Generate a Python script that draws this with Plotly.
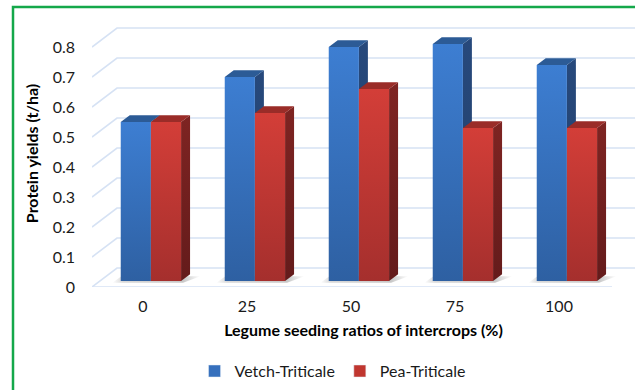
import plotly.graph_objects as go

# ---- data ----
ratios = ["0", "25", "50", "75", "100"]
vetch_triticale = [0.53, 0.68, 0.78, 0.79, 0.72]
pea_triticale = [0.53, 0.56, 0.64, 0.51, 0.51]
y_ticks = [0, 0.1, 0.2, 0.3, 0.4, 0.5, 0.6, 0.7, 0.8]

# ---- pseudo-3D geometry (data units) ----
W, H = 635, 390
ML, MR, MT, MB = 92, 0, 20, 103
PX_PER_CAT = 104.0          # horizontal pixels per category
PX_PER_UNIT = 300.0         # vertical pixels per t/ha
X0_PX = 143.0               # pixel x of first category on the front plane
xr = [(ML - X0_PX) / PX_PER_CAT, (W - MR - X0_PX) / PX_PER_CAT]
yr = [0, (H - MB - MT) / PX_PER_UNIT]

DEPTH_X = 25 / PX_PER_CAT   # full floor depth offset
DEPTH_Y = 19 / PX_PER_UNIT
F0 = 0.316                  # depth at which bar fronts sit
BD = 0.36                   # bar depth as a fraction of floor depth
BAR_W = 0.29
FRONT_LEFT = xr[0]
FRONT_RIGHT = FRONT_LEFT + len(ratios) * 1.0

series = [
    dict(name="Vetch-Triticale", vals=vetch_triticale, off=-BAR_W,
         front=("#2E60A2", "#3D7ED2"), top="#2C5B96", side=("#213F6A", "#27497C"),
         legend="#3670BD"),
    dict(name="Pea-Triticale", vals=pea_triticale, off=0.0,
         front=("#A52F2D", "#D33E38"), top="#9A2C28", side=("#641B1B", "#7E2422"),
         legend="#C0362F"),
]

fig = go.Figure()

# grid: diagonal on the left side wall + horizontal line on the back wall
gx, gy = [], []
for t in y_ticks:
    gx += [FRONT_LEFT, FRONT_LEFT + DEPTH_X, xr[1] + 0.2, None]
    gy += [t, t + DEPTH_Y, t + DEPTH_Y, None]
gx += [FRONT_LEFT, FRONT_RIGHT, None]
gy += [0, 0, None]
fig.add_trace(go.Scatter(x=gx, y=gy, mode="lines", line=dict(color="#D6E2F4", width=1.6),
                         hoverinfo="skip", showlegend=False))

bdx, bdy = BD * DEPTH_X, BD * DEPTH_Y
fdx, fdy = F0 * DEPTH_X, F0 * DEPTH_Y

# soft floor shadows under each bar pair
shadow_scale = [[0, "rgba(40,40,40,0)"], [0.12, "rgba(40,40,40,0.18)"],
                [0.8, "rgba(40,40,40,0.26)"], [1, "rgba(40,40,40,0)"]]
for i in range(len(ratios)):
    xa = i - BAR_W + fdx
    xb = i + BAR_W + fdx
    y0 = fdy
    sx = [xa - 0.08, xb + 0.02, xb + bdx + 0.1, xa - 0.08 + bdx, xa - 0.08]
    sy = [y0 - 0.006, y0 - 0.006, y0 + bdy * 0.7, y0 + bdy * 0.7, y0 - 0.006]
    fig.add_trace(go.Scatter(x=sx, y=sy, mode="lines", line=dict(width=0), fill="toself",
                             fillgradient=dict(type="horizontal", colorscale=shadow_scale),
                             hoverinfo="skip", showlegend=False))

for i in range(len(ratios)):
    for s in series:
        v = s["vals"][i]
        x0 = i + s["off"] + fdx
        x1 = x0 + BAR_W
        y0 = fdy
        y1 = v + fdy
        # side face
        fig.add_trace(go.Scatter(
            x=[x1, x1 + bdx, x1 + bdx, x1, x1], y=[y0, y0 + bdy, y1 + bdy, y1, y0],
            mode="lines", line=dict(width=0), fill="toself",
            fillgradient=dict(type="vertical", colorscale=[[0, s["side"][0]], [1, s["side"][1]]]),
            hoverinfo="skip", showlegend=False))
        # top face
        fig.add_trace(go.Scatter(
            x=[x0, x1, x1 + bdx, x0 + bdx, x0], y=[y1, y1, y1 + bdy, y1 + bdy, y1],
            mode="lines", line=dict(width=0), fill="toself", fillcolor=s["top"],
            hoverinfo="skip", showlegend=False))
        # front face
        fig.add_trace(go.Scatter(
            x=[x0, x1, x1, x0, x0], y=[y0, y0, y1, y1, y0],
            mode="lines", line=dict(width=0), fill="toself",
            fillgradient=dict(type="vertical", colorscale=[[0, s["front"][0]], [1, s["front"][1]]]),
            hovertemplate=f"{s['name']}<br>{ratios[i]}%: {v}<extra></extra>", showlegend=False))

# legend entries (bars on a hidden overlay axis)
for s in series:
    fig.add_trace(go.Bar(x=list(range(len(ratios))), y=s["vals"], name=s["name"],
                         marker=dict(color=s["legend"]), yaxis="y2", hoverinfo="skip"))

FONT = "Lato"
fig.update_layout(
    width=W, height=H,
    margin=dict(l=ML, r=MR, t=MT, b=MB),
    paper_bgcolor="white", plot_bgcolor="white",
    font=dict(family=FONT, size=16, color="#1a1a1a"),
    xaxis=dict(range=xr, tickvals=list(range(len(ratios))), ticktext=ratios,
               showgrid=False, zeroline=False, showline=False, ticks="",
               ticklabelstandoff=8, tickfont=dict(size=16),
               title=dict(text="<b>Legume seeding ratios of intercrops (%)</b>",
                          font=dict(size=16, color="black"), standoff=10)),
    yaxis=dict(range=yr, tickvals=y_ticks, ticktext=[f"{t:g}" for t in y_ticks],
               showgrid=False, zeroline=False, showline=False, ticks="",
               ticklabelstandoff=16, tickfont=dict(size=16),
               title=dict(text="<b>Protein yields (t/ha)</b>",
                          font=dict(size=16, color="black"), standoff=10)),
    yaxis2=dict(overlaying="y", range=[10, 11], visible=False),
    barmode="group",
    legend=dict(orientation="h", x=0.443, y=-0.315, xanchor="center", yanchor="middle",
                font=dict(size=16), itemwidth=30, traceorder="normal"),
    shapes=[dict(type="rect", xref="paper", yref="paper",
                 x0=(13 - ML) / (W - ML - MR), x1=(W + 10 - ML) / (W - ML - MR),
                 y0=(H - MB - (H + 10)) / (H - MB - MT), y1=(H - MB - 7) / (H - MB - MT),
                 line=dict(color="#14A84A", width=2.5), fillcolor="rgba(0,0,0,0)", layer="above")],
    showlegend=True,
)

fig.write_html("out.html")
